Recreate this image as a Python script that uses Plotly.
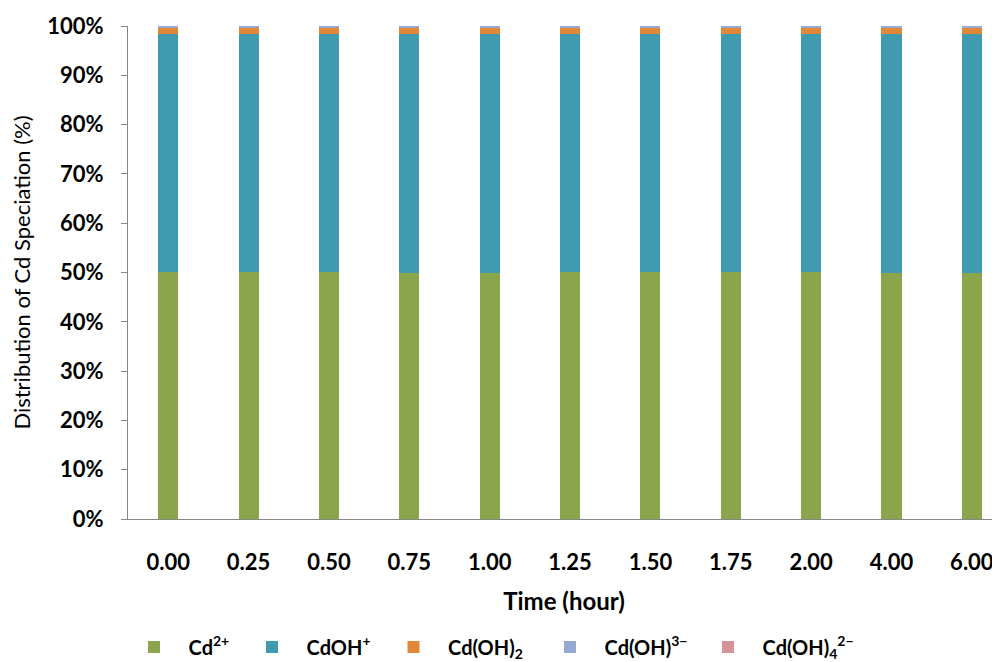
import plotly.graph_objects as go

times = ["0.00", "0.25", "0.50", "0.75", "1.00", "1.25", "1.50", "1.75", "2.00", "4.00", "6.00"]
cd2 = [50.1, 50.1, 50.1, 49.8, 49.8, 50.1, 50.1, 50.1, 50.1, 49.8, 49.8]
cdoh = [48.3, 48.3, 48.3, 48.6, 48.6, 48.3, 48.3, 48.3, 48.3, 48.6, 48.6]
cdoh2 = [1.1] * 11
cdoh3 = [0.5] * 11
cdoh4 = [0.01] * 11

series = [
    ("Cd<sup>2+</sup>", cd2, "#8BA54C"),
    ("CdOH<sup>+</sup>", cdoh, "#409AB0"),
    ("Cd(OH)<sub>2</sub>", cdoh2, "#E08838"),
    ("Cd(OH)<sup>3−</sup>", cdoh3, "#95A9D3"),
    ("Cd(OH)<sub>4</sub><sup>2−</sup>", cdoh4, "#D49496"),
]
# legend swatch centres (figure px)
leg_x = [146, 264, 405.5, 562, 720]

W, H = 992, 654
FONT = "Lato"
fig = go.Figure()
legends = {}
for i, ((name, vals, col), lx) in enumerate(zip(series, leg_x)):
    key = "legend" if i == 0 else f"legend{i+1}"
    fig.add_trace(go.Bar(x=times, y=vals, name="&nbsp;&nbsp;&nbsp;" + name,
                         marker_color=col, marker_line_width=0, width=0.25,
                         legend=key))
    legends[key] = dict(orientation="h", xref="container", yref="container",
                        x=(lx - 20) / W, y=1 - 639 / H, xanchor="left", yanchor="middle",
                        font=dict(family=FONT, size=20, color="black", weight="bold"),
                        itemwidth=30, bgcolor="rgba(0,0,0,0)")

fig.update_layout(
    barmode="stack",
    width=W, height=H,
    margin=dict(l=120, r=0, t=18, b=143),
    plot_bgcolor="white", paper_bgcolor="white",
    font=dict(family=FONT, size=22, color="black"),
    showlegend=True,
    **legends,
    xaxis=dict(range=[-0.5, 10.35], showline=True, linecolor="#868686", linewidth=1,
               ticks="", ticklabelstandoff=24,
               tickfont=dict(family=FONT, size=22, weight="bold"),
               title=dict(text="Time (hour)", font=dict(family=FONT, size=24, weight="bold"),
                          standoff=18)),
    yaxis=dict(range=[0, 100], tickvals=list(range(0, 101, 10)),
               ticktext=[f"{v}%" for v in range(0, 101, 10)],
               showline=True, linecolor="#868686", linewidth=1, showgrid=False,
               ticks="outside", ticklen=6, tickcolor="#868686", ticklabelstandoff=13,
               tickfont=dict(family=FONT, size=22, weight="bold"),
               title=dict(text="Distribution of Cd Speciation (%)",
                          font=dict(family=FONT, size=22), standoff=10)),
)

fig.write_html("out.html")
